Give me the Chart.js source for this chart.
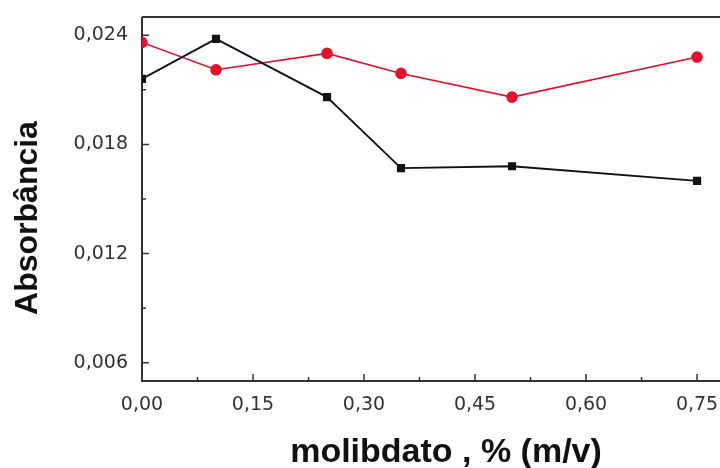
<!DOCTYPE html>
<html>
<head>
<meta charset="utf-8">
<script src="https://cdn.jsdelivr.net/npm/chart.js@4/dist/chart.umd.min.js"></script>
<style>
  html, body { margin: 0; padding: 0; background: #fff; overflow: hidden; }
  .chart-container { width: 720px; height: 468px; }
</style>
</head>
<body>
<div class="chart-container">
  <canvas id="chart" width="720" height="468"></canvas>
</div>
<script>
// molibdato, % (m/v)
const molibdato = [0, 0.10, 0.25, 0.35, 0.50, 0.75]
// absorbancia das duas series
const absPreto = [0.0216, 0.0238, 0.0206, 0.0167, 0.0168, 0.0160]
const absVermelho = [0.0236, 0.0221, 0.0230, 0.0219, 0.0206, 0.0228]

const xTicks = [0, 0.15, 0.30, 0.45, 0.60, 0.75]
const xMinor = [0.075, 0.225, 0.375, 0.525, 0.675]
const yTicks = [0.006, 0.012, 0.018, 0.024]
const yMinor = [0.009, 0.015, 0.021]

const toPoints = (ys) => molibdato.map((x, i) => ({ x: x, y: ys[i] }))

// no automatic label padding, the plot box is fixed
const noPadding = (s) => {
  s.paddingTop = 0
  s.paddingBottom = 0
  s.paddingLeft = 0
  s.paddingRight = 0
}

// frame, inward ticks and axis titles
const frame = {
  id: 'frame',
  beforeDatasetsDraw(chart) {
    const { ctx, chartArea: a, scales: { x, y } } = chart
    ctx.save()
    ctx.strokeStyle = '#333'
    ctx.lineWidth = 2
    ctx.beginPath()
    ctx.moveTo(a.left, a.top)
    ctx.lineTo(a.right, a.top)
    ctx.moveTo(a.left, a.top)
    ctx.lineTo(a.left, a.bottom)
    ctx.lineTo(a.right, a.bottom)
    ctx.stroke()

    ctx.lineWidth = 1.5
    ctx.beginPath()
    xTicks.forEach(v => { const px = x.getPixelForValue(v); ctx.moveTo(px, a.bottom); ctx.lineTo(px, a.bottom - 7) })
    xMinor.forEach(v => { const px = x.getPixelForValue(v); ctx.moveTo(px, a.bottom); ctx.lineTo(px, a.bottom - 4) })
    yTicks.forEach(v => { const py = y.getPixelForValue(v); ctx.moveTo(a.left, py); ctx.lineTo(a.left + 7, py) })
    yMinor.forEach(v => { const py = y.getPixelForValue(v); ctx.moveTo(a.left, py); ctx.lineTo(a.left + 4, py) })
    ctx.stroke()
    ctx.restore()
  },
  afterDraw(chart) {
    const { ctx } = chart
    ctx.save()
    ctx.fillStyle = '#111'
    ctx.font = 'bold 34px "Liberation Sans", Arial, sans-serif'
    ctx.textAlign = 'center'
    ctx.textBaseline = 'alphabetic'
    ctx.fillText('molibdato , % (m/v)', 446, 462)
    ctx.translate(37, 218)
    ctx.rotate(-Math.PI / 2)
    ctx.font = 'bold 32px "Liberation Sans", Arial, sans-serif'
    ctx.fillText('Absorbância', 0, 0)
    ctx.restore()
  }
}

const config = {
  type: 'line',
  data: {
    datasets: [{
      label: 'preto',
      data: toPoints(absPreto),
      borderColor: '#111',
      backgroundColor: '#111',
      borderWidth: 1.8,
      pointStyle: 'rect',
      pointRadius: 4.5,
      tension: 0
    }, {
      label: 'vermelho',
      data: toPoints(absVermelho),
      borderColor: '#e3102e',
      backgroundColor: '#e3102e',
      borderWidth: 1.6,
      pointStyle: 'circle',
      pointRadius: 5,
      tension: 0
    }]
  },
  options: {
    responsive: false,
    animation: false,
    layout: { autoPadding: false, padding: { top: 17, right: 0, left: 0, bottom: 0 } },
    plugins: {
      legend: { display: false },
      tooltip: { enabled: false }
    },
    scales: {
      x: {
        type: 'linear',
        min: 0,
        max: 0.781,
        afterFit: (s) => { s.height = 87; noPadding(s) },
        afterBuildTicks: (s) => { s.ticks = xTicks.map(v => ({ value: v })) },
        grid: { display: false },
        border: { display: false },
        ticks: {
          color: '#333',
          padding: 5,
          font: { family: 'DejaVu Sans', size: 19 },
          callback: (v) => v.toFixed(2).replace('.', ',')
        }
      },
      y: {
        min: 0.005,
        max: 0.025,
        afterFit: (s) => { s.width = 142; noPadding(s) },
        afterBuildTicks: (s) => { s.ticks = yTicks.map(v => ({ value: v })) },
        grid: { display: false },
        border: { display: false },
        ticks: {
          color: '#333',
          padding: 6,
          font: { family: 'DejaVu Sans', size: 19 },
          callback: (v) => v.toFixed(3).replace('.', ',')
        }
      }
    }
  },
  plugins: [frame]
}

new Chart(document.getElementById('chart'), config)
</script>
</body>
</html>
